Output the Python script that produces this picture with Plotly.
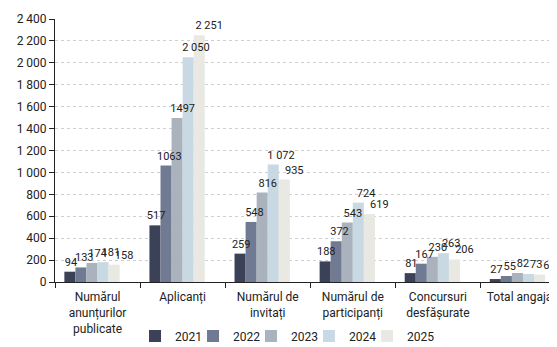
import plotly.graph_objects as go

categories = ["Numărul<br>anunțurilor<br>publicate", "Aplicanți", "Numărul de<br>invitați",
              "Numărul de<br>participanți", "Concursuri<br>desfășurate", "Total angajați"]
years = ["2021", "2022", "2023", "2024", "2025"]
v2021 = [94, 517, 259, 188, 81, 27]
v2022 = [133, 1063, 548, 372, 167, 55]
v2023 = [174, 1497, 816, 543, 230, 82]
v2024 = [181, 2050, 1072, 724, 263, 73]
v2025 = [158, 2251, 935, 619, 206, 68]
l2021 = ["94", "517", "259", "188", "81", "27"]
l2022 = ["133", "1063", "548", "372", "167", "55"]
l2023 = ["174", "1497", "816", "543", "230", "82"]
l2024 = ["181", "2 050", "1 072", "724", "263", "73"]
l2025 = ["158", "2 251", "935", "619", "206", "68"]
colors = ["#3b4257", "#717a93", "#aab2be", "#c9d9e3", "#e9e8e2"]
yticks = [0, 200, 400, 600, 800, 1000, 1200, 1400, 1600, 1800, 2000, 2200, 2400]

series = [v2021, v2022, v2023, v2024, v2025]
labels = [l2021, l2022, l2023, l2024, l2025]

fig = go.Figure()
for y, vals, c in zip(years, series, colors):
    fig.add_trace(go.Bar(x=categories, y=vals, name=y, marker_color=c,
                         marker_line_width=0, hoverinfo="skip"))
# blank trailing legend entry so the last legend text is not clipped
fig.add_trace(go.Bar(x=[None], y=[None], name=" ", marker_color="rgba(0,0,0,0)",
                     marker_line_width=0, marker_line_color="rgba(0,0,0,0)",
                     hoverinfo="skip"))
# transparent overlay bars carrying the value labels (drawn above all bars)
for y, vals, lab in zip(years, series, labels):
    fig.add_trace(go.Bar(
        x=categories, y=vals, name=y, xaxis="x2", yaxis="y2", showlegend=False,
        marker_color="rgba(0,0,0,0)", marker_line_width=0,
        text=lab, texttemplate="%{text}", textposition="outside", constraintext="none",
        cliponaxis=False, textfont=dict(size=11, color="#222"),
    ))

fig.update_layout(
    width=549, height=339,
    margin=dict(l=47, r=0, t=11, b=65, autoexpand=False),
    paper_bgcolor="white", plot_bgcolor="white",
    font=dict(family="Roboto", size=12, color="#222"),
    barmode="group", bargap=0.22, bargroupgap=0,
    separators=". ",
    showlegend=True,
    legend=dict(orientation="h", x=0.506, xanchor="center", y=-0.205, yanchor="middle",
                font=dict(size=12), itemwidth=30, entrywidth=13, entrywidthmode="pixels",
                traceorder="normal"),
    xaxis=dict(showline=True, linecolor="#222", linewidth=1, ticks="outside",
               tickson="boundaries", ticklen=5, tickcolor="#222", ticklabelstandoff=4,
               range=[-0.5, 5.4], tickfont=dict(size=12), automargin=False),
    yaxis=dict(range=[0, 2400], tickvals=yticks, tickformat=",", showline=True,
               linecolor="#222", linewidth=1, ticks="outside", ticklen=5, tickcolor="#222",
               showgrid=True, gridcolor="#cfcfcf", griddash="dot", zeroline=False,
               tickfont=dict(size=12), automargin=False),
    xaxis2=dict(overlaying="x", matches="x", visible=False, range=[-0.5, 5.4]),
    yaxis2=dict(overlaying="y", matches="y", visible=False, range=[0, 2400]),
)

fig.write_html("out.html")
